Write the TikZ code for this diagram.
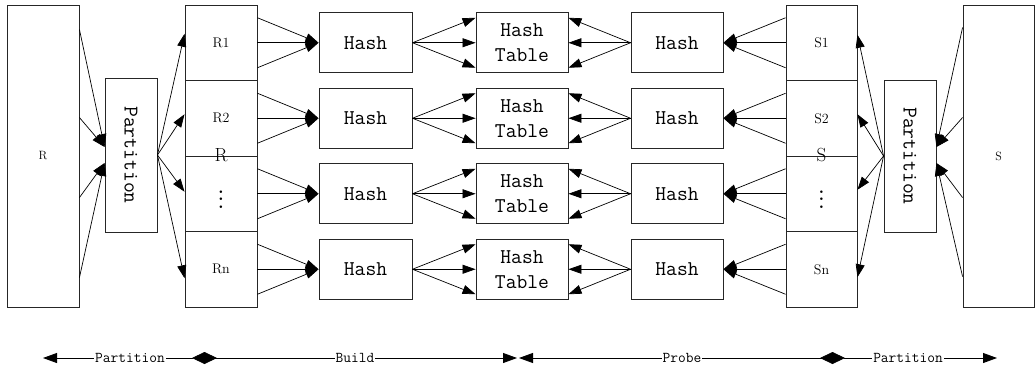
\documentclass[tikz,border=0pt]{standalone}
\usepackage{fontspec}
\usepackage{graphicx}
\usetikzlibrary{arrows.meta,calc}
\begin{document}
\begin{tikzpicture}[x={(1pt,0pt)},y={(0pt,-1pt)},
  box/.style={draw=black!85, line width=0.9pt, rectangle, inner sep=0pt, anchor=center},
  mono/.style={font=\ttfamily\fontsize{21}{25}\selectfont},
  small/.style={font=\fontsize{14}{16}\selectfont},
  conn/.style={line width=0.7pt, -{Triangle[length=13pt,width=9pt]}},
  axis/.style={line width=0.8pt},
  axlab/.style={fill=white, inner sep=1pt, font=\ttfamily\fontsize{15}{17}\selectfont},
  cell/.style={box, minimum width=72pt, minimum height=75.5pt, small},
  hbox/.style={box, minimum width=93pt, minimum height=60pt, mono},
  pbox/.style={box, minimum width=52pt, mono},
]
\newcommand{\bigvdots}{\raisebox{-3pt}{\scalebox{1.9}{$\vdots$}}}
\useasboundingbox (0,0) rectangle (1035,370);

% big relation boxes
\node[box, minimum width=72pt, minimum height=302pt, font=\fontsize{12}{14}\selectfont] (Rbox) at (43,156) {R};
\node[box, minimum width=71pt, minimum height=302pt, font=\fontsize{12}{14}\selectfont] (Sbox) at (998.5,156) {S};

% partition boxes
\node[pbox, minimum height=154pt] (LP) at (131,155) {\rotatebox{-90}{Partition}};
\node[pbox, minimum height=152pt] (RP) at (910,156) {\rotatebox{-90}{Partition}};

% R column
\node[cell] (R1) at (221,42.75) {R1};
\node[cell] (R2) at (221,118.25) {R2};
\node[cell] (R3) at (221,193.75) {\bigvdots};
\node[cell] (R4) at (221,269.25) {Rn};
\node[font=\fontsize{19}{19}\selectfont] (Rbig) at (221,155) {R};

% S column
\node[cell, minimum width=71pt] (S1) at (821.5,42.75) {S1};
\node[cell, minimum width=71pt] (S2) at (821.5,118.25) {S2};
\node[cell, minimum width=71pt] (S3) at (821.5,193.75) {\bigvdots};
\node[cell, minimum width=71pt] (S4) at (821.5,269.25) {Sn};
\node[font=\fontsize{19}{19}\selectfont] (Sbig) at (821.5,155) {S};

% hash rows
\foreach \i/\y in {1/42.75,2/118.25,3/193.75,4/269.25}{
  \node[hbox] (LH\i) at (365.5,\y) {Hash};
  \node[hbox, minimum width=92pt, align=center, font=\ttfamily\fontsize{21}{25}\selectfont] (HT\i) at (522,\y) {Hash\\Table};
  \node[hbox, minimum width=92pt] (RH\i) at (677,\y) {Hash};
  % R cell -> left hash
  \draw[conn] ($(R\i.east)+(0,-25)$) -- (LH\i.west);
  \draw[conn] (R\i.east) -- (LH\i.west);
  \draw[conn] ($(R\i.east)+(0,25)$) -- (LH\i.west);
  % left hash -> hash table
  \draw[conn] (LH\i.east) -- ($(HT\i.west)+(0,-25)$);
  \draw[conn] (LH\i.east) -- (HT\i.west);
  \draw[conn] (LH\i.east) -- ($(HT\i.west)+(0,25)$);
  % right hash -> hash table
  \draw[conn] (RH\i.west) -- ($(HT\i.east)+(0,-25)$);
  \draw[conn] (RH\i.west) -- (HT\i.east);
  \draw[conn] (RH\i.west) -- ($(HT\i.east)+(0,25)$);
  % S cell -> right hash
  \draw[conn] ($(S\i.west)+(0,-25)$) -- (RH\i.east);
  \draw[conn] (S\i.west) -- (RH\i.east);
  \draw[conn] ($(S\i.west)+(0,25)$) -- (RH\i.east);
}

% R box -> partition
\draw[conn] ($(Rbox.north east)+(0,25)$) -- ($(LP.west)+(0,-8)$);
\draw[conn] ($(Rbox.north east)+(0,113)$) -- ($(LP.west)+(0,-8)$);
\draw[conn] ($(Rbox.north east)+(0,193)$) -- ($(LP.west)+(0,8)$);
\draw[conn] ($(Rbox.north east)+(0,273)$) -- ($(LP.west)+(0,8)$);

% partition -> R cells
\draw[conn] (LP.east) -- ($(R1.west)+(0,-9)$);
\draw[conn] (LP.east) -- ($(R2.west)+(0,-4)$);
\draw[conn] (LP.east) -- ($(R3.west)+(0,-2)$);
\draw[conn] (LP.east) -- ($(R4.west)+(0,9)$);

% S box -> partition
\draw[conn] ($(Sbox.north west)+(0,23)$) -- ($(RP.east)+(0,-9)$);
\draw[conn] ($(Sbox.north west)+(0,113)$) -- ($(RP.east)+(0,-9)$);
\draw[conn] ($(Sbox.north west)+(0,193)$) -- ($(RP.east)+(0,7)$);
\draw[conn] ($(Sbox.north west)+(0,272)$) -- ($(RP.east)+(0,7)$);

% partition -> S cells
\draw[conn] (RP.west) -- ($(S1.east)+(0,-8)$);
\draw[conn] (RP.west) -- ($(S2.east)+(0,-4)$);
\draw[conn] (RP.west) -- ($(S3.east)+(0,-4)$);
\draw[conn] (RP.west) -- ($(S4.east)+(0,8)$);

% bottom phase axis
\coordinate (b0) at (43,358);
\coordinate (b1) at (205,358);
\coordinate (d1) at (217,358);
\coordinate (b2) at (517,358);
\coordinate (b2r) at (519,358);
\coordinate (d3) at (820,358);
\coordinate (b3) at (832,358);
\coordinate (b4) at (997,358);
\draw[axis, -{Triangle[length=14pt,width=10pt]}] (b1) -- (b2);
\draw[axis, -{Triangle[length=14pt,width=10pt]}] (b3) -- (b2r);
\draw[axis, {Triangle[length=14pt,width=10pt]}-{Diamond[length=25pt,width=12pt]}] (b0) -- (d1);
\draw[axis, {Diamond[length=25pt,width=12pt]}-{Triangle[length=14pt,width=10pt]}] (d3) -- (b4);
\node[axlab] (t1) at (130,358) {Partition};
\node[axlab] (t2) at (355,358) {Build};
\node[axlab] (t3) at (682,358) {Probe};
\node[axlab] (t4) at (908,358) {Partition};
\end{tikzpicture}
\end{document}
